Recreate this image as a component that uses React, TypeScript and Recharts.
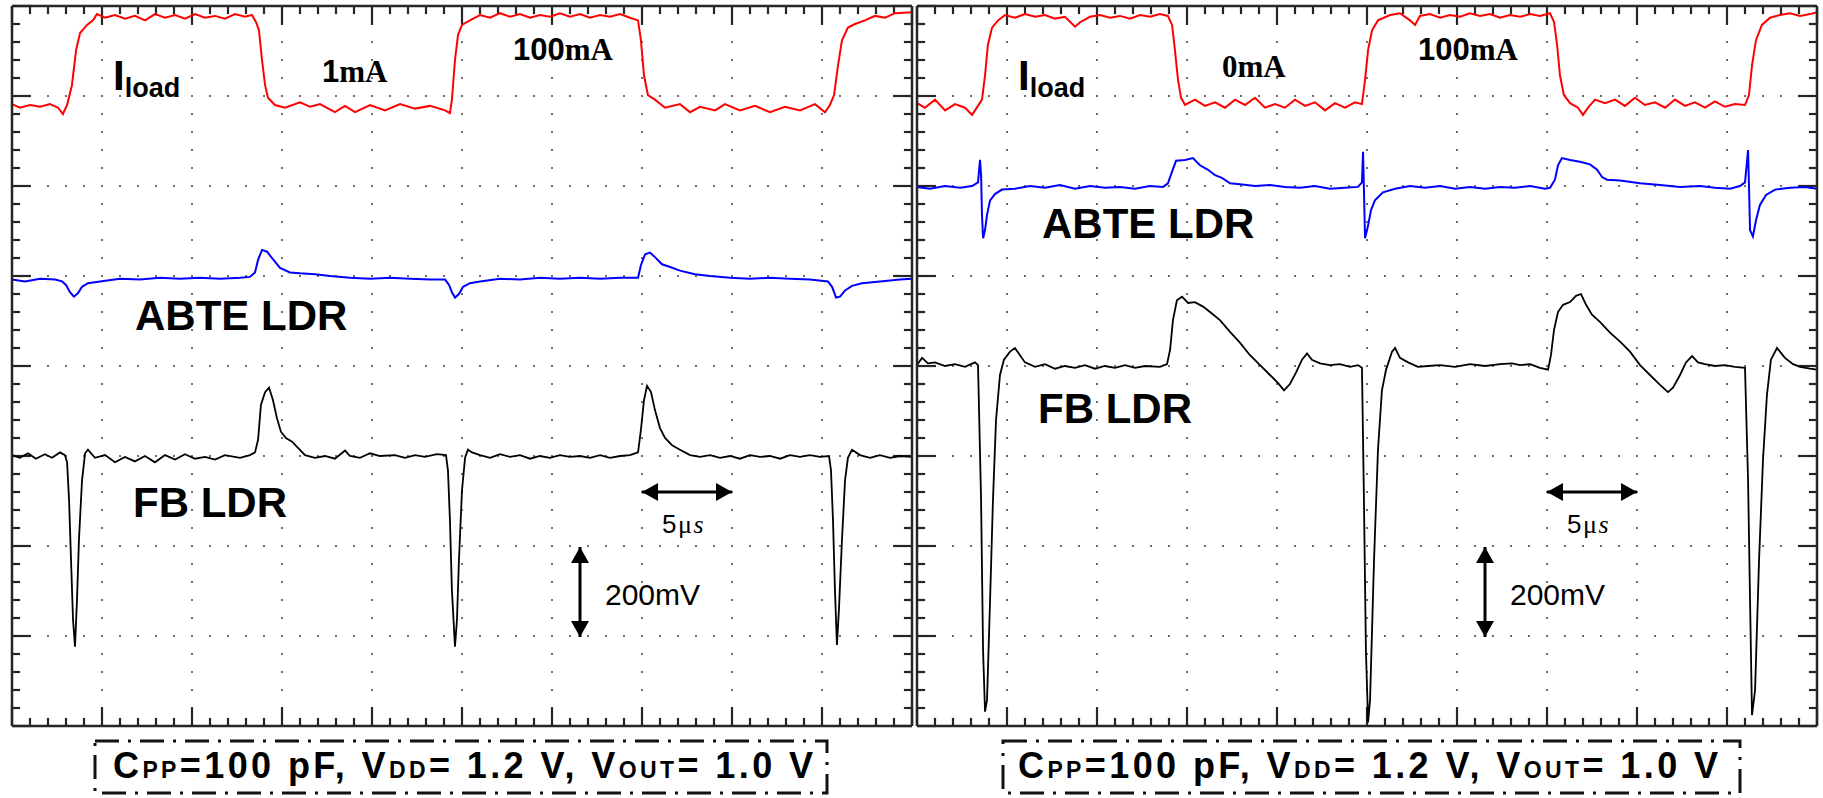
import React from 'react';
import { LineChart, Line, XAxis, YAxis, CartesianGrid, ReferenceLine } from 'recharts';

// time in µs (5 µs per division), amplitude in screen divisions (0 = bottom, 8 = top)
const majorTimeTicks = [0, 5, 10, 15, 20, 25, 30, 35, 40, 45, 50];
const majorDivTicks = [0, 1, 2, 3, 4, 5, 6, 7, 8];
const minorTimeTicks = Array.from({ length: 51 }, (_, i) => i);
const minorDivTicks = Array.from({ length: 41 }, (_, i) => i / 5);

type Pt = [number, number];

// left screen: load step 1mA <-> 100mA
const iloadLeft: Pt[] = [
  [0, 6.91], [0.44, 6.87], [1.0, 6.9], [1.56, 6.88], [2.11, 6.91], [2.56, 6.87], [2.83, 6.8], [3.06, 6.9],
  [3.33, 7.12], [3.56, 7.51], [3.78, 7.7], [4.17, 7.79], [4.5, 7.84], [4.72, 7.91], [5.17, 7.87], [5.72, 7.9],
  [6.28, 7.86], [6.83, 7.89], [7.39, 7.84], [7.94, 7.91], [8.5, 7.87], [9.06, 7.9], [9.61, 7.86], [10.17, 7.91],
  [10.72, 7.87], [11.28, 7.89], [11.83, 7.86], [12.39, 7.91], [12.94, 7.88], [13.33, 7.9], [13.56, 7.82],
  [13.72, 7.73], [13.89, 7.4], [14.06, 7.12], [14.22, 6.98], [14.61, 6.9], [15.17, 6.87], [16.0, 6.93],
  [16.56, 6.88], [17.11, 6.91], [17.94, 6.82], [18.5, 6.89], [19.06, 6.82], [19.89, 6.9], [20.72, 6.84],
  [21.56, 6.91], [22.39, 6.86], [23.22, 6.89], [24.06, 6.84], [24.33, 6.81], [24.44, 6.96], [24.61, 7.4],
  [24.78, 7.68], [25.0, 7.79], [25.44, 7.84], [26.0, 7.9], [26.56, 7.87], [27.11, 7.92], [27.67, 7.88],
  [28.22, 7.91], [28.78, 7.87], [29.33, 7.9], [29.89, 7.88], [30.44, 7.92], [31.0, 7.88], [31.56, 7.91],
  [32.11, 7.87], [32.67, 7.9], [33.22, 7.88], [33.78, 7.91], [34.33, 7.87], [34.78, 7.84], [34.94, 7.62],
  [35.11, 7.23], [35.33, 7.01], [35.72, 6.96], [36.28, 6.87], [37.11, 6.91], [37.67, 6.82], [38.22, 6.88],
  [39.06, 6.84], [39.61, 6.91], [40.44, 6.84], [41.28, 6.89], [42.11, 6.82], [42.94, 6.88], [43.78, 6.84],
  [44.61, 6.91], [45.17, 6.82], [45.44, 6.9], [45.67, 7.01], [45.89, 7.34], [46.11, 7.62], [46.44, 7.76],
  [46.83, 7.8], [47.39, 7.84], [47.94, 7.89], [48.5, 7.87], [49.06, 7.92], [50, 7.93],
];

const abteLeft: Pt[] = [
  [0, 4.96], [0.72, 4.94], [1.56, 4.97], [2.39, 4.96], [2.78, 4.94], [3.0, 4.9], [3.22, 4.82], [3.44, 4.77],
  [3.67, 4.81], [3.89, 4.88], [4.22, 4.92], [4.89, 4.94], [6.0, 4.97], [7.11, 4.96], [8.22, 4.98], [9.33, 4.97],
  [10.44, 4.98], [11.56, 4.97], [12.67, 4.98], [13.22, 4.99], [13.5, 5.04], [13.67, 5.18], [13.89, 5.29],
  [14.17, 5.27], [14.44, 5.2], [14.89, 5.09], [15.44, 5.04], [16.0, 5.03], [16.83, 5.02], [17.67, 5.0],
  [18.78, 4.98], [19.89, 4.97], [21.0, 4.98], [22.11, 4.97], [23.22, 4.96], [24.06, 4.96], [24.28, 4.9],
  [24.44, 4.82], [24.61, 4.76], [24.83, 4.8], [25.06, 4.88], [25.44, 4.92], [26.0, 4.94], [27.11, 4.97],
  [28.22, 4.96], [29.33, 4.98], [30.44, 4.97], [31.56, 4.98], [32.67, 4.97], [33.78, 4.98], [34.78, 4.98],
  [34.94, 5.12], [35.17, 5.24], [35.44, 5.26], [35.72, 5.21], [36.11, 5.13], [36.56, 5.1], [37.11, 5.06],
  [37.94, 5.02], [38.78, 5.0], [39.89, 4.98], [41.0, 4.97], [42.11, 4.98], [43.22, 4.97], [44.33, 4.96],
  [45.33, 4.94], [45.56, 4.88], [45.78, 4.76], [46.0, 4.77], [46.28, 4.84], [46.67, 4.89], [47.22, 4.92],
  [48.22, 4.94], [49.33, 4.96], [50, 4.97],
];

const fbLeft: Pt[] = [
  [0, 3.01], [0.44, 2.98], [0.89, 3.03], [1.33, 2.97], [1.83, 3.02], [2.22, 2.98], [2.67, 3.04], [2.94, 3.01],
  [3.06, 2.93], [3.17, 2.51], [3.28, 1.84], [3.39, 1.18], [3.5, 0.88], [3.61, 1.4], [3.72, 2.07], [3.89, 2.73],
  [4.06, 3.03], [4.22, 3.07], [4.61, 2.98], [5.17, 3.01], [5.72, 2.93], [6.28, 2.99], [6.83, 2.94], [7.39, 3.0],
  [7.94, 2.93], [8.5, 3.01], [9.06, 2.96], [9.61, 3.02], [10.17, 2.97], [10.72, 2.99], [11.28, 2.96],
  [11.83, 3.01], [12.67, 2.98], [13.22, 3.01], [13.5, 3.04], [13.67, 3.18], [13.83, 3.57], [14.06, 3.71],
  [14.28, 3.76], [14.5, 3.62], [14.72, 3.42], [14.94, 3.27], [15.22, 3.2], [15.56, 3.16], [15.89, 3.09],
  [16.28, 3.01], [16.83, 2.98], [17.39, 3.0], [17.94, 2.97], [18.5, 3.06], [18.78, 3.0], [19.33, 2.98],
  [19.89, 3.03], [20.44, 3.0], [21.28, 3.01], [21.83, 2.98], [22.39, 3.01], [22.94, 2.99], [23.61, 3.02],
  [24.11, 3.01], [24.22, 2.84], [24.33, 2.29], [24.44, 1.51], [24.61, 0.88], [24.72, 1.18], [24.83, 1.84],
  [25.0, 2.62], [25.17, 2.98], [25.33, 3.07], [25.56, 3.04], [26.0, 3.01], [26.56, 2.98], [27.11, 3.02],
  [27.67, 2.99], [28.22, 3.01], [28.78, 2.97], [29.33, 3.0], [29.89, 2.98], [30.44, 3.01], [31.0, 2.99],
  [31.56, 3.0], [32.11, 2.98], [32.67, 3.01], [33.22, 2.98], [33.78, 3.0], [34.33, 3.01], [34.78, 3.04],
  [34.94, 3.29], [35.11, 3.62], [35.28, 3.78], [35.5, 3.71], [35.72, 3.51], [36.0, 3.31], [36.28, 3.2],
  [36.67, 3.12], [37.11, 3.07], [37.67, 3.01], [38.22, 2.99], [38.78, 3.01], [39.33, 2.98], [39.89, 3.0],
  [40.44, 2.97], [41.0, 3.01], [41.56, 2.99], [42.11, 3.0], [42.67, 2.97], [43.22, 3.01], [43.78, 2.99],
  [44.33, 3.01], [44.89, 2.99], [45.39, 3.0], [45.5, 2.84], [45.61, 2.29], [45.72, 1.51], [45.83, 0.9],
  [45.94, 1.29], [46.11, 2.07], [46.28, 2.73], [46.44, 2.98], [46.67, 3.07], [47.11, 3.01], [47.67, 2.98],
  [48.22, 3.01], [48.78, 2.98], [49.33, 3.0], [50, 2.99],
];

// right screen: load step 0mA <-> 100mA
const iloadRight: Pt[] = [
  [0, 6.92], [0.44, 6.87], [1.0, 6.96], [1.56, 6.84], [2.11, 6.91], [2.67, 6.87], [3.06, 6.79], [3.39, 6.89],
  [3.61, 6.96], [3.78, 7.23], [3.94, 7.57], [4.17, 7.76], [4.5, 7.84], [4.89, 7.9], [5.44, 7.87], [6.0, 7.91],
  [6.56, 7.88], [7.11, 7.9], [7.67, 7.86], [8.22, 7.88], [8.78, 7.77], [9.06, 7.82], [9.61, 7.88], [10.17, 7.9],
  [10.72, 7.87], [11.28, 7.89], [11.83, 7.86], [12.39, 7.9], [12.94, 7.88], [13.5, 7.91], [13.94, 7.89],
  [14.17, 7.79], [14.33, 7.51], [14.5, 7.18], [14.67, 6.98], [14.89, 6.9], [15.44, 6.96], [16.0, 6.89],
  [16.56, 6.93], [17.11, 6.87], [17.67, 6.96], [18.22, 6.9], [18.78, 6.98], [19.33, 6.87], [19.89, 6.91],
  [20.44, 6.87], [21.0, 6.96], [21.56, 6.89], [22.11, 6.93], [22.67, 6.84], [23.22, 6.92], [23.78, 6.87],
  [24.33, 6.93], [24.72, 6.91], [24.89, 7.18], [25.06, 7.51], [25.28, 7.73], [25.61, 7.84], [26.28, 7.9],
  [26.83, 7.92], [27.39, 7.84], [27.67, 7.79], [27.94, 7.89], [28.5, 7.91], [29.06, 7.87], [29.61, 7.9],
  [30.17, 7.88], [30.72, 7.92], [31.28, 7.89], [31.83, 7.91], [32.39, 7.87], [32.94, 7.9], [33.5, 7.88],
  [34.06, 7.91], [34.61, 7.89], [35.17, 7.92], [35.39, 7.82], [35.56, 7.57], [35.72, 7.23], [35.94, 7.01],
  [36.28, 6.92], [36.72, 6.87], [37.0, 6.79], [37.28, 6.87], [37.67, 6.96], [38.22, 6.92], [38.78, 6.96],
  [39.33, 6.89], [39.89, 6.98], [40.44, 6.9], [41.0, 6.93], [41.56, 6.87], [42.11, 6.96], [42.67, 6.89],
  [43.22, 6.93], [43.78, 6.87], [44.33, 6.94], [44.89, 6.88], [45.44, 6.91], [46.0, 6.9], [46.22, 7.01],
  [46.39, 7.34], [46.61, 7.62], [46.94, 7.79], [47.39, 7.87], [47.94, 7.9], [48.5, 7.92], [49.06, 7.89],
  [49.61, 7.91], [50, 7.93],
];

const abteRight: Pt[] = [
  [0, 5.99], [0.72, 5.97], [1.56, 6.0], [2.39, 5.98], [3.06, 6.0], [3.39, 6.04], [3.5, 6.29], [3.56, 6.12],
  [3.61, 5.68], [3.67, 5.42], [3.78, 5.51], [3.89, 5.68], [4.06, 5.84], [4.33, 5.91], [4.72, 5.96], [5.44, 5.97],
  [6.28, 6.0], [7.11, 5.98], [7.94, 6.01], [8.78, 5.97], [9.61, 6.0], [10.44, 5.98], [11.28, 5.99], [12.11, 5.97],
  [12.94, 6.0], [13.67, 5.99], [13.94, 6.03], [14.17, 6.16], [14.39, 6.28], [14.89, 6.29], [15.33, 6.31],
  [15.72, 6.23], [16.17, 6.18], [16.56, 6.12], [16.94, 6.09], [17.39, 6.03], [17.94, 6.02], [18.78, 6.0],
  [19.61, 6.01], [20.44, 5.99], [21.28, 5.98], [22.11, 6.0], [22.94, 5.97], [23.78, 5.98], [24.5, 5.99],
  [24.72, 6.04], [24.78, 6.38], [24.83, 5.96], [24.89, 5.42], [25.06, 5.56], [25.22, 5.73], [25.44, 5.84],
  [25.89, 5.93], [26.56, 5.97], [27.39, 6.0], [28.22, 5.98], [29.06, 6.0], [29.89, 5.97], [30.72, 5.99],
  [31.56, 5.97], [32.39, 5.99], [33.22, 5.98], [34.06, 6.0], [34.89, 5.97], [35.17, 5.98], [35.44, 6.07],
  [35.61, 6.23], [35.83, 6.31], [36.28, 6.29], [36.83, 6.27], [37.39, 6.24], [37.78, 6.18], [38.06, 6.1],
  [38.33, 6.07], [39.06, 6.06], [40.17, 6.03], [41.28, 6.01], [42.39, 5.99], [43.5, 6.0], [44.33, 5.98],
  [45.17, 5.97], [45.72, 6.0], [46.0, 6.04], [46.17, 6.4], [46.22, 6.01], [46.28, 5.51], [46.44, 5.44],
  [46.61, 5.62], [46.83, 5.79], [47.17, 5.9], [47.67, 5.96], [48.5, 5.98], [49.33, 5.99], [50, 5.97],
];

const fbRight: Pt[] = [
  [0, 4.01], [0.28, 4.09], [0.61, 4.03], [1.0, 4.04], [1.56, 4.0], [2.11, 4.02], [2.67, 3.99], [3.22, 4.04],
  [3.39, 4.01], [3.56, 2.51], [3.67, 0.84], [3.78, 0.16], [3.89, 0.29], [4.06, 1.4], [4.22, 2.51], [4.39, 3.4],
  [4.61, 3.9], [4.83, 4.07], [5.17, 4.16], [5.44, 4.2], [5.72, 4.12], [6.0, 4.04], [6.56, 3.99], [7.11, 4.02],
  [7.67, 3.97], [8.22, 4.0], [8.78, 3.98], [9.33, 4.01], [9.89, 3.97], [10.44, 4.0], [11.0, 3.98], [11.56, 4.01],
  [12.11, 3.98], [12.67, 4.0], [13.5, 3.99], [13.89, 4.02], [14.06, 4.18], [14.22, 4.51], [14.44, 4.73],
  [14.72, 4.77], [15.06, 4.7], [15.44, 4.71], [15.89, 4.66], [16.28, 4.6], [16.83, 4.51], [17.39, 4.38],
  [17.94, 4.26], [18.5, 4.12], [19.06, 4.01], [19.61, 3.9], [20.06, 3.81], [20.39, 3.73], [20.72, 3.8],
  [21.06, 3.93], [21.39, 4.07], [21.67, 4.14], [21.94, 4.07], [22.39, 4.03], [22.94, 4.01], [23.5, 4.02],
  [24.06, 3.99], [24.5, 4.01], [24.72, 3.98], [24.83, 2.51], [24.94, 0.84], [25.06, 0.04], [25.17, 0.29],
  [25.39, 1.84], [25.61, 3.07], [25.83, 3.73], [26.06, 3.96], [26.39, 4.16], [26.56, 4.2], [26.83, 4.09],
  [27.28, 4.04], [27.83, 3.99], [28.39, 4.0], [29.06, 4.01], [29.89, 3.99], [30.72, 4.02], [31.56, 4.0],
  [32.39, 4.02], [33.06, 4.03], [33.5, 4.01], [34.06, 4.02], [34.61, 3.98], [35.06, 3.96], [35.22, 4.12],
  [35.39, 4.4], [35.61, 4.6], [35.89, 4.68], [36.28, 4.71], [36.61, 4.78], [36.89, 4.8], [37.17, 4.68],
  [37.5, 4.57], [37.94, 4.49], [38.5, 4.37], [39.06, 4.27], [39.61, 4.16], [40.17, 4.01], [40.72, 3.9],
  [41.28, 3.79], [41.72, 3.71], [42.0, 3.76], [42.39, 3.9], [42.72, 4.04], [43.06, 4.11], [43.39, 4.04],
  [43.78, 4.02], [44.33, 4.0], [44.89, 4.01], [45.44, 3.99], [46.0, 3.98], [46.17, 2.73], [46.28, 1.4],
  [46.39, 0.12], [46.56, 0.4], [46.78, 1.84], [47.0, 2.96], [47.22, 3.68], [47.44, 4.07], [47.78, 4.2],
  [48.22, 4.09], [48.67, 4.02], [49.06, 3.99], [49.61, 3.97], [50, 3.96],
];

const toPoints = (pts: Pt[]) => pts.map(([t, v]) => ({ t, v }));

const FRAME = '#262626';
const SANS = "'Liberation Sans', Arial, Helvetica, sans-serif";
const SERIF = "'Liberation Serif', 'Times New Roman', serif";

// graticule tick lengths (in axis units: 18 px per µs, 90 px per division)
const isWhole = (n: number) => Math.abs(n - Math.round(n)) < 1e-6;
const timeTickLen = (t: number) => (isWhole(t / 5) ? 0.21 : 0.09);
const divTickLen = (v: number) => (isWhole(v) ? 1.05 : 0.45);

interface PanelProps {
  red: Pt[];
  blue: Pt[];
  black: Pt[];
  width: number;
  margin: { top: number; right: number; bottom: number; left: number };
}

const ScopePanel = ({ red, blue, black, width, margin }: PanelProps) => {
  const frameLine = { stroke: FRAME, strokeWidth: 2.5 };
  const tickStyle = { stroke: FRAME, strokeWidth: 2.2, ifOverflow: 'visible' as const, xAxisId: 't', yAxisId: 'v' };
  return (
    <LineChart width={width} height={740} margin={margin}>
      <XAxis xAxisId="t" dataKey="t" type="number" domain={[0, 50]} ticks={majorTimeTicks} hide />
      <YAxis yAxisId="v" type="number" domain={[0, 8]} ticks={majorDivTicks} hide />
      <CartesianGrid
        xAxisId="t"
        yAxisId="v"
        stroke="#6e6e6e"
        strokeWidth={2}
        strokeDasharray="2 16"
        strokeDashoffset={1}
      />
      <XAxis xAxisId="fb" orientation="bottom" dataKey="t" type="number" domain={[0, 50]} mirror
        tick={false} tickLine={false} axisLine={frameLine} />
      <XAxis xAxisId="ft" orientation="top" dataKey="t" type="number" domain={[0, 50]} mirror
        tick={false} tickLine={false} axisLine={frameLine} />
      <YAxis yAxisId="fl" orientation="left" type="number" domain={[0, 8]} mirror
        tick={false} tickLine={false} axisLine={frameLine} />
      <YAxis yAxisId="fr" orientation="right" type="number" domain={[0, 8]} mirror
        tick={false} tickLine={false} axisLine={frameLine} />
      {minorTimeTicks.map((t) => (
        <ReferenceLine key={`b${t}`} {...tickStyle} segment={[{ x: t, y: 0 }, { x: t, y: timeTickLen(t) }]} />
      ))}
      {minorTimeTicks.map((t) => (
        <ReferenceLine key={`t${t}`} {...tickStyle} segment={[{ x: t, y: 8 }, { x: t, y: 8 - timeTickLen(t) }]} />
      ))}
      {minorDivTicks.map((v) => (
        <ReferenceLine key={`l${v}`} {...tickStyle} segment={[{ x: 0, y: v }, { x: divTickLen(v), y: v }]} />
      ))}
      {minorDivTicks.map((v) => (
        <ReferenceLine key={`r${v}`} {...tickStyle} segment={[{ x: 50, y: v }, { x: 50 - divTickLen(v), y: v }]} />
      ))}
      <Line xAxisId="t" yAxisId="v" data={toPoints(red)} dataKey="v" type="linear" stroke="#ff0000"
        strokeWidth={2} dot={false} isAnimationActive={false} />
      <Line xAxisId="t" yAxisId="v" data={toPoints(blue)} dataKey="v" type="linear" stroke="#0000ff"
        strokeWidth={2} dot={false} isAnimationActive={false} />
      <Line xAxisId="t" yAxisId="v" data={toPoints(black)} dataKey="v" type="linear" stroke="#000000"
        strokeWidth={1.8} dot={false} isAnimationActive={false} />
    </LineChart>
  );
};

const Arrow = ({ x1, y1, x2, y2 }: { x1: number; y1: number; x2: number; y2: number }) => {
  const horiz = y1 === y2;
  const h = 16;
  const w = 9;
  const headA = horiz
    ? `${x1},${y1} ${x1 + h},${y1 - w} ${x1 + h},${y1 + w}`
    : `${x1},${y1} ${x1 - w},${y1 + h} ${x1 + w},${y1 + h}`;
  const headB = horiz
    ? `${x2},${y2} ${x2 - h},${y2 - w} ${x2 - h},${y2 + w}`
    : `${x2},${y2} ${x2 - w},${y2 - h} ${x2 + w},${y2 - h}`;
  return (
    <g>
      <line x1={x1} y1={y1} x2={x2} y2={y2} stroke="#000" strokeWidth={3} />
      <polygon points={headA} fill="#000" />
      <polygon points={headB} fill="#000" />
    </g>
  );
};

const Labels = ({ dx, lowLabel }: { dx: number; lowLabel: React.ReactNode }) => (
  <g>
    <text x={113 + dx} y={90} fontFamily={SANS} fontWeight="bold" fontSize={42}>
      I<tspan fontSize={27} dy={7}>load</tspan>
    </text>
    {lowLabel}
    <text x={513 + dx} y={60} fontWeight="bold" fontSize={31}>
      <tspan fontFamily={SANS}>100</tspan>
      <tspan fontFamily={SERIF}>mA</tspan>
    </text>
    <Arrow x1={642 + dx} y1={492} x2={732 + dx} y2={492} />
    <text x={662 + dx} y={533} fontSize={26} letterSpacing={1.5}>
      <tspan fontFamily={SANS}>5</tspan>
      <tspan fontFamily={SERIF}>μ</tspan>
      <tspan fontFamily={SERIF} fontStyle="italic">s</tspan>
    </text>
    <Arrow x1={580 + dx} y1={547} x2={580 + dx} y2={637} />
    <text x={605 + dx} y={605} fontFamily={SANS} fontSize={30}>200mV</text>
  </g>
);

const Caption = ({ x, boxX, boxW }: { x: number; boxX: number; boxW: number }) => (
  <g>
    <rect x={boxX} y={741} width={boxW} height={52} fill="none" stroke="#111" strokeWidth={3}
      strokeDasharray="24 9 3 9" />
    <text x={x} y={778} fontFamily={SANS} fontWeight="bold" fontSize={36} textLength={700} lengthAdjust="spacing">
      C<tspan fontSize={23}>PP</tspan>=100 pF, V<tspan fontSize={23}>DD</tspan>= 1.2 V, V
      <tspan fontSize={23}>OUT</tspan>= 1.0 V
    </text>
  </g>
);

export default function App() {
  return (
    <div style={{ position: 'absolute', left: 0, top: 0, width: 1823, height: 798, overflow: 'hidden', background: '#fff' }}>
      <div style={{ position: 'absolute', left: 0, top: 0 }}>
        <ScopePanel red={iloadLeft} blue={abteLeft} black={fbLeft} width={922}
          margin={{ top: 6, right: 10, bottom: 14, left: 12 }} />
      </div>
      <div style={{ position: 'absolute', left: 905, top: 0 }}>
        <ScopePanel red={iloadRight} blue={abteRight} black={fbRight} width={918}
          margin={{ top: 6, right: 6, bottom: 14, left: 12 }} />
      </div>
      <svg width={1823} height={798} style={{ position: 'absolute', left: 0, top: 0, pointerEvents: 'none' }}>
        <Labels
          dx={0}
          lowLabel={
            <text x={322} y={82} fontWeight="bold" fontSize={31}>
              <tspan fontFamily={SANS}>1</tspan>
              <tspan fontFamily={SERIF}>mA</tspan>
            </text>
          }
        />
        <text x={135} y={330} fontFamily={SANS} fontWeight="bold" fontSize={42}>ABTE LDR</text>
        <text x={133} y={517} fontFamily={SANS} fontWeight="bold" fontSize={42}>FB LDR</text>
        <Labels
          dx={905}
          lowLabel={
            <text x={1222} y={77} fontFamily={SERIF} fontWeight="bold" fontSize={31}>0mA</text>
          }
        />
        <text x={1042} y={238} fontFamily={SANS} fontWeight="bold" fontSize={42}>ABTE LDR</text>
        <text x={1038} y={423} fontFamily={SANS} fontWeight="bold" fontSize={42}>FB LDR</text>
        <Caption x={113} boxX={95} boxW={732} />
        <Caption x={1018} boxX={1003} boxW={737} />
      </svg>
    </div>
  );
}
